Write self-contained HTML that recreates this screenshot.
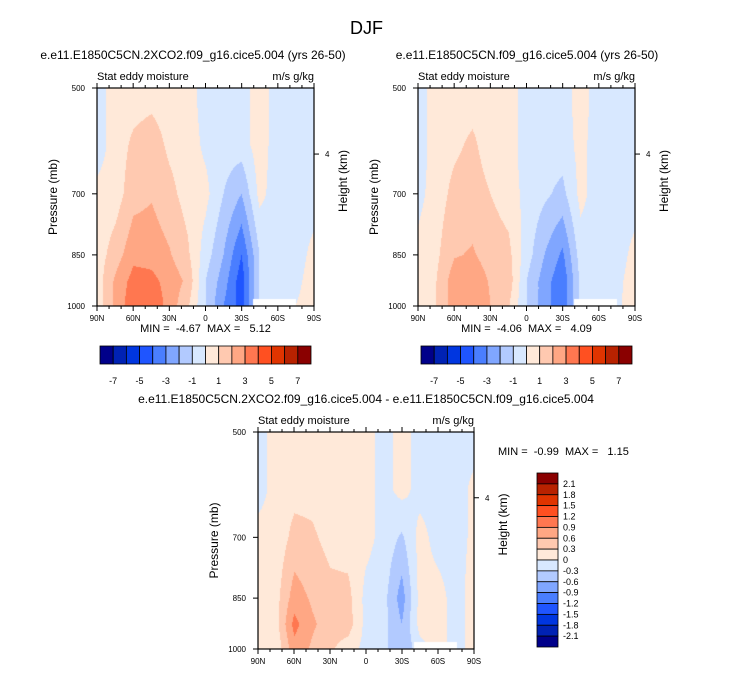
<!DOCTYPE html>
<html><head><meta charset="utf-8">
<style>
body{margin:0;background:#fff;font-family:"Liberation Sans",sans-serif;}
#root{position:relative;width:733px;height:673px;overflow:hidden;background:#fff}
.t{position:absolute;white-space:nowrap;color:#000}
canvas{position:absolute}
svg{position:absolute;left:0;top:0}
svg text{white-space:pre}
</style></head><body>
<div id="root">
<div class="t" style="left:0;width:733px;text-align:center;top:18px;font-size:18px">DJF</div>
<canvas id="c1" width="217" height="218" style="left:97px;top:88px"></canvas>
<canvas id="c2" width="217" height="218" style="left:418px;top:88px"></canvas>
<canvas id="c3" width="216" height="217" style="left:258px;top:432px"></canvas>
<svg id="ov" width="733" height="673"></svg>
</div>
<script>
const lats=['90N','60N','30N','0','30S','60S','90S'];
const plevs=[500,600,700,850,925,1000];
const pticks=[500,700,850,1000];
const colors=['#00008a','#0022b4','#0036e0','#1f55ff','#4a7eff','#80a6ff','#b2caff','#d8e8ff','#ffe9d9','#ffc9b0','#ffa784','#ff7750','#ff5021','#e03400','#b82200','#8a0000'];
const levels1=[-7,-6,-5,-4,-3,-2,-1,0,1,2,3,4,5,6,7];
const levels3=[-2.1,-1.8,-1.5,-1.2,-0.9,-0.6,-0.3,0,0.3,0.6,0.9,1.2,1.5,1.8,2.1];
const cbLabels1=['-7','-5','-3','-1','1','3','5','7'];
const cbLabels3=['2.1','1.8','1.5','1.2','0.9','0.6','0.3','0','-0.3','-0.6','-0.9','-1.2','-1.5','-1.8','-2.1'];
// rows: 500,600,700,850,925,1000 ; cols 90N..90S every 15deg
const field1=[
[-0.5,0.5,0.5,0.6,0.5,0.5,-0.5,-0.5,-0.5,0.5,-0.5,-0.5,-0.5],
[-0.5,0.5,1.2,1.5,0.8,0.5,-0.2,-0.5,-0.5,0.5,-0.5,-0.5,-0.5],
[0.3,0.5,1.6,1.9,1.3,0.6,0.3,-1,-2,0.3,-0.5,-0.5,-0.5],
[0.5,1.5,2.7,2.6,2.1,1.2,-0.5,-2,-4,-1,-0.5,-0.5,0.3],
[0.5,2.2,3.4,3.3,2.6,1.8,-1,-2.5,-4.6,-1,-0.5,-0.3,0.5],
[0.5,2.2,3.8,3.8,2.6,1.2,-1,-3,-4.5,-1,-0.5,0,0.5]];
const field2=[
[-0.5,0.5,0.5,0.5,0.5,0.5,-0.5,-0.5,-0.5,0.5,-0.5,-0.5,-0.5],
[-0.5,0.5,0.8,1.2,0.5,0.5,-0.5,-0.5,-0.5,0.3,-0.5,-0.5,-0.5],
[-0.3,0.5,1.3,1.5,1,0.5,-0.3,-0.8,-1.3,0.3,-0.5,-0.5,-0.5],
[0.3,0.8,1.9,2.1,1.6,1.3,-0.5,-2,-3.2,-0.5,-0.5,-0.5,0.3],
[0.5,1,2.6,2.6,1.9,1.6,-1,-2.5,-3.8,-0.8,-0.5,-0.3,0.5],
[0.3,1,2.6,2.9,2,1.1,-1,-2.5,-3.8,-0.8,-0.5,-0.2,0.5]];
const field3=[
[-0.1,0.1,0.1,0.1,0.1,0.1,0.1,-0.1,0.1,-0.1,-0.1,-0.1,-0.1],
[-0.1,0.1,0.2,0.2,0.1,0.1,0.1,-0.1,0.1,-0.1,-0.1,-0.1,0.05],
[0.1,0.1,0.4,0.35,0.2,0.15,0.1,-0.1,-0.35,0.1,-0.1,-0.1,0.05],
[0.1,0.2,0.75,0.55,0.4,0.4,-0.1,-0.2,-0.75,0.1,0.1,-0.1,0.1],
[0.1,0.2,1.0,0.65,0.45,0.45,-0.1,-0.2,-0.6,0.1,0.1,-0.1,0.1],
[0.1,0.1,0.8,0.55,0.35,0.15,-0.1,-0.2,-0.6,-0.1,0.1,-0.1,0.1]];

function fy(p){return (Math.log(p)-Math.log(500))/(Math.log(1000)-Math.log(500));}
function hex(c){return [1,3,5].map(i=>parseInt(c.substr(i,2),16));}
const rgb=colors.map(hex);
function draw(id,field,levels){
  const cv=document.getElementById(id),ctx=cv.getContext('2d');
  const W=cv.width,H=cv.height,img=ctx.createImageData(W,H);
  const nc=field[0].length;
  const yr=plevs.map(fy);
  for(let y=0;y<H;y++){
    const f=y/(H-1);let r=0;while(r<yr.length-2&&f>yr[r+1])r++;
    const tr=(f-yr[r])/(yr[r+1]-yr[r]);
    for(let x=0;x<W;x++){
      const cx=x/(W-1)*(nc-1);let c=Math.min(nc-2,Math.floor(cx));const tc=cx-c;
      const a=field[r][c]*(1-tc)+field[r][c+1]*tc,b=field[r+1][c]*(1-tc)+field[r+1][c+1]*tc;
      const v=a*(1-tr)+b*tr;let k=0;while(k<levels.length&&v>=levels[k])k++;
      const col=rgb[k],i=(y*W+x)*4;img.data[i]=col[0];img.data[i+1]=col[1];img.data[i+2]=col[2];img.data[i+3]=255;
    }
  }
  ctx.putImageData(img,0,0);
  ctx.fillStyle='#fff';ctx.fillRect(Math.round(W*0.72),H-7,Math.round(W*0.2),7);
}
draw('c1',field1,levels1);draw('c2',field2,levels1);draw('c3',field3,levels3);

const ov=document.getElementById('ov');const NS='http://www.w3.org/2000/svg';
function el(tag,at,txt){const e=document.createElementNS(NS,tag);for(const k in at)e.setAttribute(k,at[k]);if(txt!==undefined)e.textContent=txt;ov.appendChild(e);return e;}
function panel(x0,y0,w,h,title,name,mm,cbx,tx){
  let e;
  e=el('rect',{x:x0,y:y0,width:w,height:h,fill:'none',stroke:'#000','stroke-width':1.2});
  
  e=el('text',{x:tx,y:y0-29,'font-size':12,'text-anchor':'middle'},title);
  
  e=el('text',{x:x0,y:y0-8,'font-size':11},'Stat eddy moisture');
  
  e=el('text',{x:x0+w,y:y0-8,'font-size':11,'text-anchor':'end'},'m/s g/kg');
  
  lats.forEach((l,i)=>{const x=x0+w*i/6;
    el('line',{x1:x,x2:x,y1:y0+h,y2:y0+h+5,stroke:'#000'});el('line',{x1:x,x2:x,y1:y0,y2:y0-5,stroke:'#000'});
    e=el('text',{x:x,y:y0+h+15,'font-size':8,'text-anchor':'middle'},l);
    });
  for(let i=0;i<18;i++){if(i%3==0)continue;const x=x0+w*i/18;el('line',{x1:x,x2:x,y1:y0+h,y2:y0+h+3,stroke:'#000'});el('line',{x1:x,x2:x,y1:y0,y2:y0-3,stroke:'#000'});}
  pticks.forEach(p=>{const y=y0+h*fy(p);el('line',{x1:x0,x2:x0-5,y1:y,y2:y,stroke:'#000'});
    e=el('text',{x:x0-12,y:y+3,'font-size':8,'text-anchor':'end'},String(p));
    });
  const y4=y0+h*0.303;el('line',{x1:x0+w,x2:x0+w+5,y1:y4,y2:y4,stroke:'#000'});
  el('text',{x:x0+w+11,y:y4+3,'font-size':8},'4');
  e=el('text',{transform:`translate(${x0-40},${y0+h/2}) rotate(-90)`,'font-size':12,'text-anchor':'middle'},'Pressure (mb)');
  
  e=el('text',{transform:`translate(${x0+w+33},${y0+h/2-16}) rotate(-90)`,'font-size':12,'text-anchor':'middle'},'Height (km)');
  
  if(mm){e=el('text',{x:x0+w/2,y:y0+h+26,'font-size':11,'text-anchor':'middle'},mm);
    }
  if(cbx!==undefined){const cw=211/16;
    colors.forEach((c,i)=>{e=el('rect',{x:cbx+i*cw,y:346,width:cw,height:18,fill:c,stroke:'#000','stroke-width':0.8});
      });
    cbLabels1.forEach((l,i)=>{e=el('text',{x:cbx+cw*(1+2*i),y:384,'font-size':9,'text-anchor':'middle'},l);
      });}
}
panel(97,88,217,218,'e.e11.E1850C5CN.2XCO2.f09_g16.cice5.004 (yrs 26-50)','panel-1','MIN =  -4.67  MAX =   5.12',100,193);
panel(418,88,217,218,'e.e11.E1850C5CN.f09_g16.cice5.004 (yrs 26-50)','panel-2','MIN =  -4.06  MAX =   4.09',421,527);
panel(258,432,216,217,'e.e11.E1850C5CN.2XCO2.f09_g16.cice5.004 - e.e11.E1850C5CN.f09_g16.cice5.004','panel-diff',null,undefined,366);
let e=el('text',{x:498,y:455,'font-size':11},'MIN =  -0.99  MAX =   1.15');

const vh=174/16;
colors.slice().reverse().forEach((c,i)=>{e=el('rect',{x:537,y:473+i*vh,width:21,height:vh,fill:c,stroke:'#000','stroke-width':0.8});
  });
cbLabels3.forEach((l,i)=>{e=el('text',{x:563,y:473+vh*(i+1)+3,'font-size':9},l);
  });
</script>
</body></html>
